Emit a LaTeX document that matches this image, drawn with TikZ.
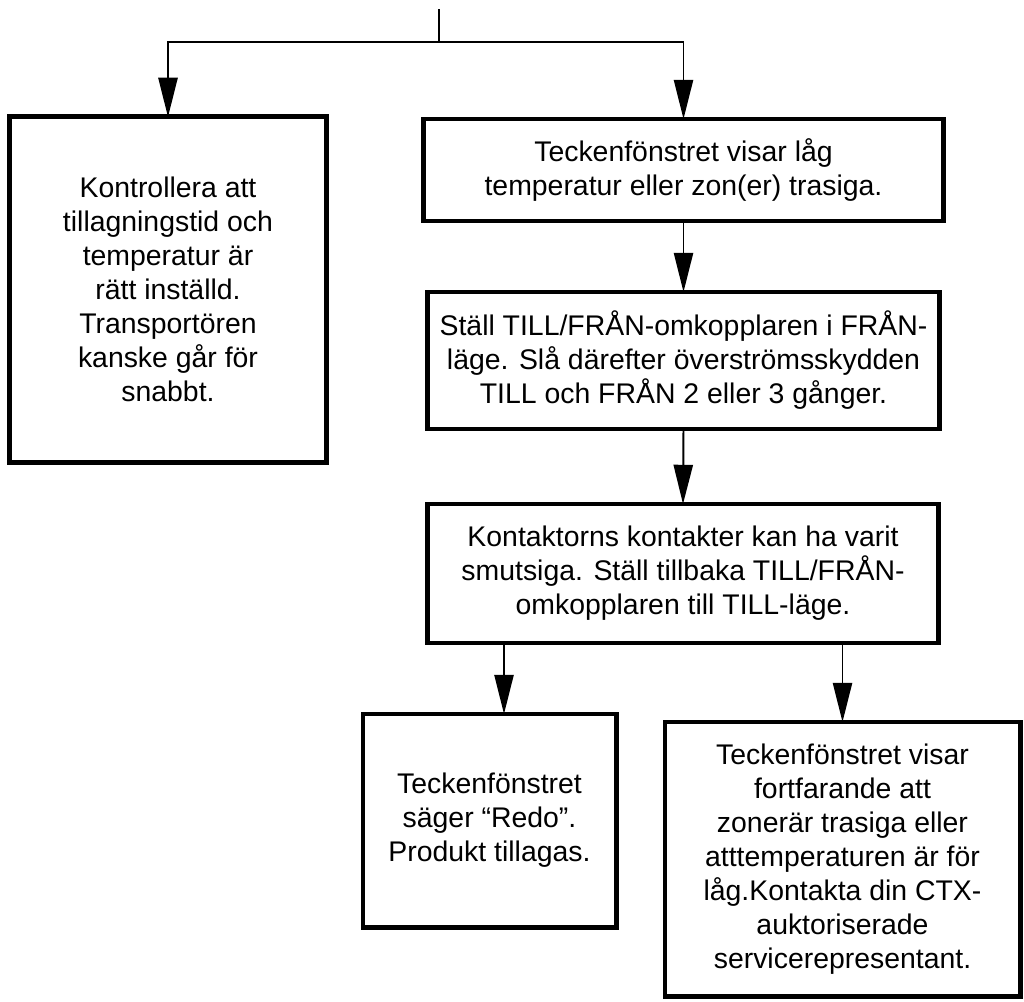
\documentclass[tikz,border=0pt]{standalone}
\usepackage{fontspec}
\setmainfont{Liberation Sans}
\usetikzlibrary{arrows.meta,calc}

\begin{document}
\begin{tikzpicture}[
    x=0.025cm, y=-0.025cm,
    msgbox/.style={
        rectangle,
        draw=black,
        line width=3.5pt,
        inner sep=0pt,
        outer sep=0pt,
        font=\fontsize{20.2pt}{24.2pt}\selectfont,
        align=center
    },
    flow/.style={
        line width=1.4pt
    },
    >={Triangle[length=0.98cm,width=0.48cm]}
]
    \useasboundingbox (0,0) rectangle (1024,1001);

    % incoming line and branch point
    \coordinate (entry) at (439,9);
    \coordinate (split) at (439,42);

    % left branch
    \node[msgbox, minimum width=7.9cm, minimum height=8.625cm] (check) at (168,289.5) {
        Kontrollera att\\
        tillagningstid och\\
        temperatur är\\
        rätt inställd.\\
        Transportören\\
        kanske går för\\
        snabbt.
    };

    % right branch, top to bottom
    \node[msgbox, minimum width=12.975cm, minimum height=2.55cm] (lowtemp) at (683.5,170) {
        Teckenfönstret visar låg\\
        temperatur eller zon(er) trasiga.
    };
    \node[msgbox, minimum width=12.775cm, minimum height=3.425cm] (reset) at (683.5,360.5) {
        Ställ TILL/FRÅN-omkopplaren i FRÅN-\\
        läge. Slå därefter överströmsskydden\\
        TILL och FRÅN 2 eller 3 gånger.
    };
    \node[msgbox, minimum width=12.75cm, minimum height=3.475cm] (contacts) at (683,573.5) {
        Kontaktorns kontakter kan ha varit\\
        smutsiga. Ställ tillbaka TILL/FRÅN-\\
        omkopplaren till TILL-läge.
    };

    % outcomes
    \node[msgbox, minimum width=6.325cm, minimum height=5.325cm] (ready) at (489.5,820.5) {
        Teckenfönstret\\
        säger “Redo”.\\
        Produkt tillagas.
    };
    \node[msgbox, minimum width=8.875cm, minimum height=6.85cm] (service) at (842.5,859) {
        Teckenfönstret visar\\
        fortfarande att\\
        zonerär trasiga eller\\
        atttemperaturen är för\\
        låg.Kontakta din CTX-\\
        auktoriserade\\
        servicerepresentant.
    };

    % connectors
    \draw[flow] (entry) -- (split);
    \draw[flow, ->] (split) -| (check.north);
    \draw[flow, ->] (split) -| (lowtemp.north);
    \draw[flow, ->] (lowtemp.south) -- (reset.north);
    \draw[flow, ->] (reset.south) -- (contacts.north);

    \coordinate (readyin) at ($(ready.north)+(14.5,0)$);
    \draw[flow, ->] (contacts.south -| readyin) -- (readyin);
    \draw[flow, ->] (contacts.south -| service.north) -- (service.north);

\end{tikzpicture}
\end{document}
